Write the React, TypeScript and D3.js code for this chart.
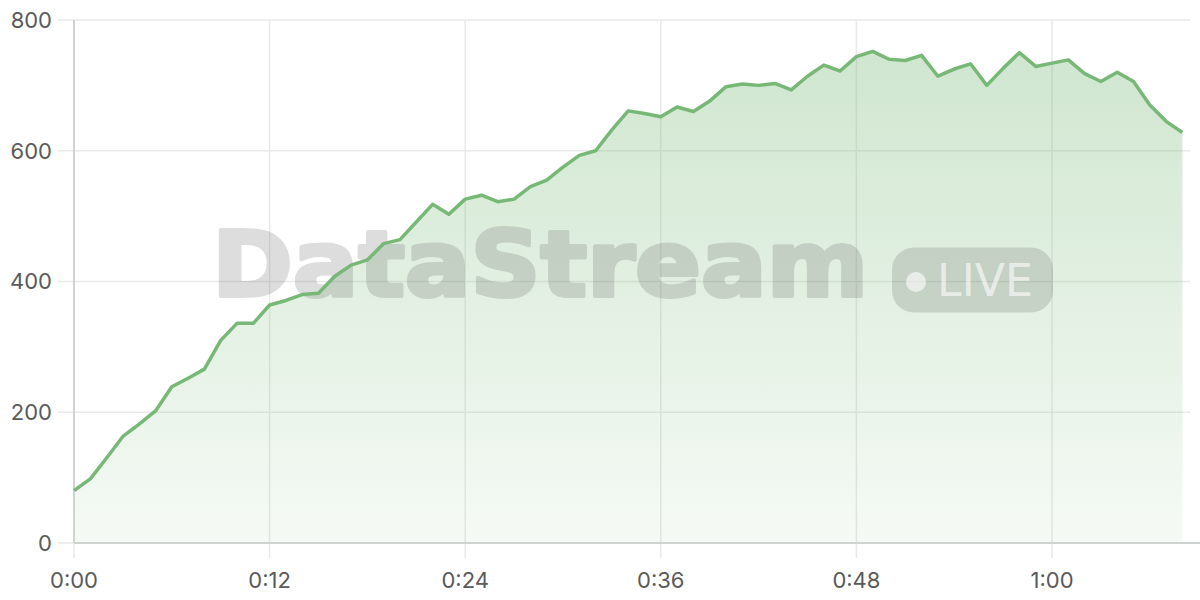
import React from "react";
import * as d3 from "d3";

const minutes: number[] = Array.from({ length: 69 }, (_, i) => i);
const values: number[] = [
  80, 98, 130, 163, 182, 202, 239, 252, 266, 310, 336, 336, 364, 371, 380, 382, 408, 425, 433, 458,
  464, 491, 518, 503, 526, 532, 522, 526, 545, 555, 575, 593, 600, 632, 661, 657, 652, 667, 660, 676,
  698, 702, 700, 703, 693, 714, 731, 722, 744, 752, 740, 738, 746, 714, 725, 733, 700, 726, 750, 729,
  734, 739, 718, 706, 720, 706, 670, 645, 628,
];
const xTicks: number[] = [0, 12, 24, 36, 48, 60];
const xTickLabels: string[] = ["0:00", "0:12", "0:24", "0:36", "0:48", "1:00"];
const yTicks: number[] = [0, 200, 400, 600, 800];
const watermarkText = "DataStream";
const badgeText = "LIVE";

const W = 1200;
const H = 600;
const left = 74;
const top = 20;
const bottom = 543;

export default function App() {
  const x = d3.scaleLinear().domain([0, 68]).range([left, left + 68 * 16.3]);
  const y = d3.scaleLinear().domain([0, 800]).range([bottom, top]);
  const data = minutes.map((m, i) => ({ m, v: values[i] }));
  const line = d3
    .line<{ m: number; v: number }>()
    .x((d) => x(d.m))
    .y((d) => y(d.v));
  const area = d3
    .area<{ m: number; v: number }>()
    .x((d) => x(d.m))
    .y0(y(0))
    .y1((d) => y(d.v));
  const font = "Inter, 'Helvetica Neue', Arial, sans-serif";
  return (
    <svg
      width={W}
      height={H}
      style={{ position: "absolute", left: 0, top: 0, background: "#fff" }}
    >
      <defs>
        <linearGradient id="ag" gradientUnits="userSpaceOnUse" x1="0" y1={y(800)} x2="0" y2={y(0)}>
          <stop offset="0" stopColor="#74b674" stopOpacity={0.36} />
          <stop offset="1" stopColor="#74b674" stopOpacity={0.07} />
        </linearGradient>
      </defs>
      {yTicks.map((t) => (
        <line key={"gy" + t} x1={58} x2={1190} y1={y(t)} y2={y(t)} stroke="#e9e9e9" strokeWidth={1.5} />
      ))}
      {xTicks.map((t) => (
        <line key={"gx" + t} x1={x(t)} x2={x(t)} y1={top} y2={558} stroke="#e9e9e9" strokeWidth={1.5} />
      ))}
      <path d={area(data) || ""} fill="url(#ag)" />
      <g opacity={0.2}>
        <text
          x={212}
          y={295.5}
          fontFamily="'DejaVu Sans', sans-serif"
          fontWeight="bold"
          fontSize={90}
          textLength={656}
          lengthAdjust="spacingAndGlyphs"
          fill="#5a5a5a"
          stroke="#5a5a5a"
          strokeWidth={4}
          strokeLinejoin="round"
        >
          {watermarkText}
        </text>
      </g>
      <rect x={892} y={247.5} width={161} height={65} rx={22} fill="#5a5a5a" fillOpacity={0.2} />
      <circle cx={916} cy={282} r={10} fill="#fff" fillOpacity={0.6} />
      <text
        x={937}
        y={296}
        fontFamily="'DejaVu Sans Condensed', 'DejaVu Sans', sans-serif"
        fontSize={45}
        textLength={96}
        lengthAdjust="spacingAndGlyphs"
        fill="#fff"
        fillOpacity={0.6}
      >
        {badgeText}
      </text>
      <line x1={left} x2={left} y1={top} y2={bottom} stroke="#d2d2d2" strokeWidth={2} />
      <line x1={left} x2={W} y1={bottom} y2={bottom} stroke="#cfd3cf" strokeWidth={2} />
      <path d={line(data) || ""} fill="none" stroke="#77b877" strokeWidth={3.5} strokeLinejoin="round" />
      {yTicks.map((t) => (
        <text
          key={"ly" + t}
          x={52}
          y={y(t)}
          dy="0.36em"
          textAnchor="end"
          fontFamily={font}
          fontSize={22}
          fill="#5a5a5a"
        >
          {t}
        </text>
      ))}
      {xTicks.map((t, i) => (
        <text
          key={"lx" + t}
          x={x(t)}
          y={588}
          textAnchor="middle"
          fontFamily={font}
          fontSize={22}
          fill="#5a5a5a"
        >
          {xTickLabels[i]}
        </text>
      ))}
    </svg>
  );
}
